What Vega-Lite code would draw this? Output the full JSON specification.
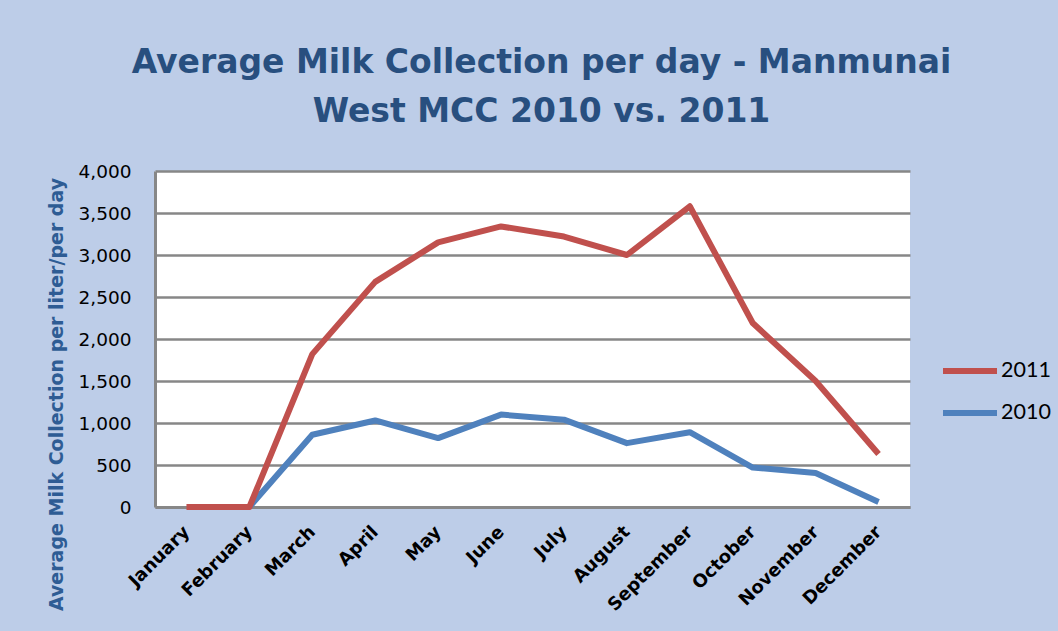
{
  "$schema": "https://vega.github.io/schema/vega-lite/v6.json",
  "autosize": "none",
  "width": 755,
  "height": 336,
  "padding": {"left": 155, "top": 171, "right": 148, "bottom": 124},
  "background": "#bdcde8",
  "title": {
    "text": ["Average Milk Collection per day - Manmunai", "West MCC 2010 vs. 2011"],
    "font": "DejaVu Sans",
    "fontWeight": "bold",
    "fontSize": 33,
    "color": "#284f7f",
    "lineHeight": 49,
    "anchor": "middle",
    "frame": "group",
    "dx": 9,
    "offset": 33
  },
  "data": {
    "values": [
      {"month": "January", "year": "2011", "value": 0},
      {"month": "February", "year": "2011", "value": 0},
      {"month": "March", "year": "2011", "value": 1820},
      {"month": "April", "year": "2011", "value": 2680},
      {"month": "May", "year": "2011", "value": 3150},
      {"month": "June", "year": "2011", "value": 3340},
      {"month": "July", "year": "2011", "value": 3220},
      {"month": "August", "year": "2011", "value": 3000},
      {"month": "September", "year": "2011", "value": 3580},
      {"month": "October", "year": "2011", "value": 2190},
      {"month": "November", "year": "2011", "value": 1500},
      {"month": "December", "year": "2011", "value": 630},
      {"month": "February", "year": "2010", "value": 0},
      {"month": "March", "year": "2010", "value": 860},
      {"month": "April", "year": "2010", "value": 1030},
      {"month": "May", "year": "2010", "value": 820},
      {"month": "June", "year": "2010", "value": 1100},
      {"month": "July", "year": "2010", "value": 1040},
      {"month": "August", "year": "2010", "value": 760},
      {"month": "September", "year": "2010", "value": 890},
      {"month": "October", "year": "2010", "value": 470},
      {"month": "November", "year": "2010", "value": 405},
      {"month": "December", "year": "2010", "value": 60}
    ]
  },
  "encoding": {
    "x": {
      "field": "month",
      "type": "ordinal",
      "sort": ["January", "February", "March", "April", "May", "June", "July", "August", "September", "October", "November", "December"],
      "scale": {"type": "point", "padding": 0.5},
      "axis": {
        "title": null,
        "labelAngle": -45,
        "labelAlign": "right",
        "labelBaseline": "middle",
        "labelFont": "DejaVu Sans",
        "labelFontWeight": "bold",
        "labelFontSize": 18,
        "labelColor": "#000000",
        "labelPadding": 22,
        "ticks": false,
        "tickSize": 0,
        "domainColor": "#878787",
        "domainWidth": 3,
        "grid": false
      }
    },
    "y": {
      "field": "value",
      "type": "quantitative",
      "scale": {"domain": [0, 4000], "nice": false},
      "axis": {
        "title": "Average Milk Collection per liter/per day",
        "titleFont": "DejaVu Sans",
        "titleFontWeight": "bold",
        "titleFontSize": 19,
        "titleColor": "#2e5c94",
        "titleAngle": -90,
        "titleX": -99,
        "titleY": 223,
        "titleAlign": "center",
        "titleBaseline": "middle",
        "values": [0, 500, 1000, 1500, 2000, 2500, 3000, 3500, 4000],
        "format": ",.0f",
        "labelFont": "DejaVu Sans",
        "labelFontSize": 18.5,
        "labelColor": "#000000",
        "labelPadding": 24,
        "ticks": false,
        "tickSize": 0,
        "domainColor": "#878787",
        "domainWidth": 3,
        "grid": true,
        "gridColor": "#878787",
        "gridWidth": 2.5,
        "gridOpacity": 1
      }
    },
    "color": {
      "field": "year",
      "type": "nominal",
      "scale": {"domain": ["2011", "2010"], "range": ["#c0504d", "#4f81bd"]},
      "legend": {
        "title": null,
        "orient": "none",
        "legendX": 785,
        "legendY": 170,
        "symbolType": "stroke",
        "symbolSize": 2916,
        "symbolStrokeWidth": 6,
        "labelFont": "Lato",
        "labelFontSize": 21.5,
        "labelColor": "#000000",
        "labelOffset": 1,
        "rowPadding": -5
      }
    }
  },
  "layer": [
    {
      "transform": [{"filter": "datum.year === '2010'"}],
      "mark": {"type": "line", "strokeWidth": 6, "strokeJoin": "round", "strokeCap": "butt"}
    },
    {
      "transform": [{"filter": "datum.year === '2011'"}],
      "mark": {"type": "line", "strokeWidth": 6, "strokeJoin": "round", "strokeCap": "butt"}
    }
  ],
  "config": {
    "view": {"fill": "#ffffff", "stroke": null}
  }
}
